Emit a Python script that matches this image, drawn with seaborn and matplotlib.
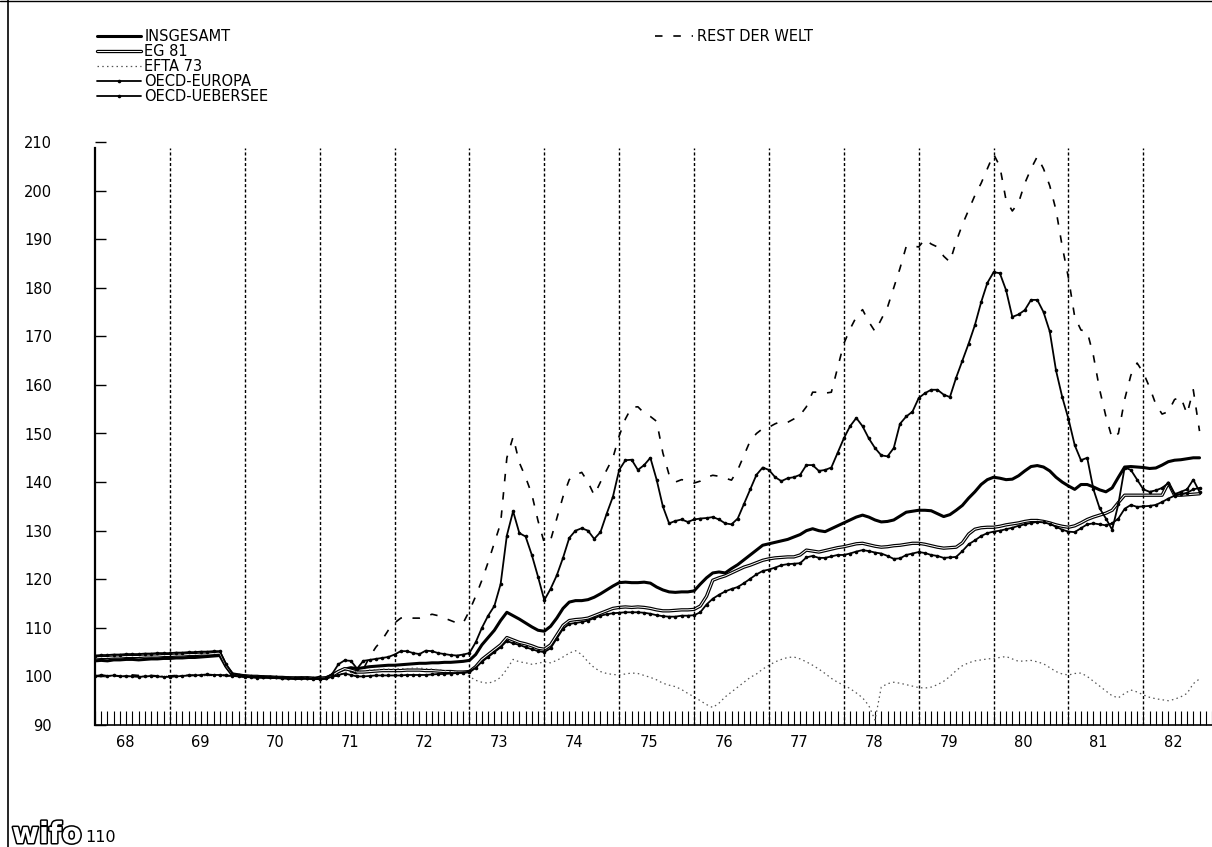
import matplotlib
matplotlib.use("Agg")
import matplotlib.pyplot as plt
import matplotlib.patheffects as pe
from matplotlib.lines import Line2D
import numpy as np
import pandas as pd
import seaborn as sns

# ---------------------------------------------------------------------------
# Monthly index values (1970 = 100), January 1968 - October 1982
# ---------------------------------------------------------------------------
START_YEAR = 1968
YEARS = list(range(1968, 1983))
YEAR_LABELS = ["68", "69", "70", "71", "72", "73", "74", "75",
               "76", "77", "78", "79", "80", "81", "82"]
Y_TICKS = [90, 100, 110, 120, 130, 140, 150, 160, 170, 180, 190, 200, 210]

SERIES_NAMES = ["INSGESAMT", "EG 81", "EFTA 73", "OECD-EUROPA",
                "OECD-UEBERSEE", "REST DER WELT"]

INSGESAMT = [
    103.2, 103.3, 103.2, 103.4, 103.4, 103.5, 103.5, 103.4, 103.5, 103.6, 103.6, 103.7,  # 1968
    103.7, 103.8, 103.8, 103.9, 103.9, 104.0, 104.1, 104.2, 104.3, 102.0, 100.3, 100.2,  # 1969
    100.1, 100.0, 100.0, 99.9, 99.8, 99.8, 99.7, 99.7, 99.6, 99.6, 99.7, 99.6,            # 1970
    99.6, 99.7, 100.3, 101.0, 101.5, 101.8, 101.6, 101.8, 102.0, 102.1, 102.2, 102.3,     # 1971
    102.3, 102.4, 102.5, 102.6, 102.7, 102.7, 102.8, 102.8, 102.9, 102.9, 103.0, 103.1,  # 1972
    103.3, 104.5, 106.5, 108.0, 109.5, 111.5, 113.2, 112.5, 111.8, 111.0, 110.2, 109.5,  # 1973
    109.3, 110.3, 112.0, 114.0, 115.3, 115.6, 115.6, 115.8, 116.3, 117.0, 117.8, 118.6,  # 1974
    119.3, 119.4, 119.3, 119.3, 119.4, 119.2, 118.4, 117.8, 117.4, 117.3, 117.4, 117.4,  # 1975
    117.6, 119.0, 120.3, 121.3, 121.5, 121.3, 122.2, 123.0, 124.0, 125.0, 126.0, 127.0,  # 1976
    127.3, 127.6, 127.9, 128.2, 128.7, 129.2, 130.0, 130.4, 130.0, 129.8, 130.4, 131.0,  # 1977
    131.6, 132.2, 132.8, 133.2, 132.8, 132.2, 131.8, 131.9, 132.2, 133.0, 133.8, 134.0,  # 1978
    134.2, 134.2, 134.1, 133.5, 132.9, 133.3, 134.2, 135.2, 136.7, 138.0, 139.5, 140.5,  # 1979
    141.0, 140.8, 140.5, 140.6, 141.3, 142.3, 143.2, 143.4, 143.1, 142.3, 141.0, 140.0,  # 1980
    139.2, 138.5, 139.5, 139.5, 139.0, 138.4, 138.0, 138.8, 141.0, 143.1, 143.2, 143.1,  # 1981
    143.0, 142.8, 142.9, 143.5, 144.2, 144.5, 144.6, 144.8, 145.0, 145.0,                # 1982
]

EG_81 = [
    103.8, 103.9, 103.9, 104.0, 104.0, 104.1, 104.1, 104.1, 104.2, 104.2, 104.2, 104.3,  # 1968
    104.3, 104.4, 104.4, 104.5, 104.5, 104.6, 104.6, 104.7, 104.8, 102.2, 100.5, 100.3,  # 1969
    100.1, 100.0, 100.0, 99.9, 99.9, 99.8, 99.8, 99.7, 99.7, 99.7, 99.7, 99.6,            # 1970
    99.6, 99.7, 100.2, 101.0, 101.6, 101.3, 100.9, 100.9, 101.0, 101.1, 101.2, 101.2,     # 1971
    101.2, 101.2, 101.3, 101.3, 101.3, 101.2, 101.2, 101.1, 101.0, 101.0, 100.9, 100.9,  # 1972
    101.0, 102.0, 103.5, 104.5, 105.5, 106.5, 108.0, 107.5, 107.0, 106.7, 106.3, 105.8,  # 1973
    105.6, 106.5, 108.5, 110.5, 111.5, 111.7, 111.8, 112.0, 112.5, 113.0, 113.5, 114.0,  # 1974
    114.2, 114.3, 114.2, 114.3, 114.2, 114.0, 113.7, 113.5, 113.5, 113.6, 113.7, 113.7,  # 1975
    113.8, 114.5, 116.5, 119.8, 120.3, 120.7, 121.3, 121.9, 122.5, 122.9, 123.4, 123.9,  # 1976
    124.2, 124.4, 124.5, 124.6, 124.6, 125.0, 126.0, 125.8, 125.6, 125.9, 126.2, 126.5,  # 1977
    126.7, 127.0, 127.3, 127.4, 127.1, 126.8, 126.6, 126.7, 126.9, 127.0, 127.2, 127.4,  # 1978
    127.4, 127.2, 126.9, 126.6, 126.4, 126.5, 126.6, 127.5, 129.3, 130.3, 130.6, 130.7,  # 1979
    130.7, 130.9, 131.2, 131.4, 131.6, 131.9, 132.1, 132.1, 131.9, 131.6, 131.2, 130.9,  # 1980
    130.7, 131.0, 131.6, 132.3, 132.8, 133.2, 133.6, 134.2, 135.8, 137.3, 137.3, 137.3,  # 1981
    137.3, 137.3, 137.3, 137.3, 139.8, 137.3, 137.3, 137.4, 137.5, 137.6,                # 1982
]

EFTA_73 = [
    100.0, 99.9, 100.0, 100.1, 100.0, 99.9, 100.0, 100.1, 100.0, 99.9, 100.0, 100.1,     # 1968
    100.0, 100.1, 100.2, 100.1, 100.0, 100.1, 100.2, 100.1, 100.2, 100.1, 100.0, 100.0,  # 1969
    99.9, 99.9, 99.8, 99.8, 99.9, 99.8, 99.7, 99.7, 99.6, 99.7, 99.6, 99.6,               # 1970
    99.7, 99.7, 99.9, 100.3, 100.8, 101.0, 101.0, 101.2, 101.3, 101.4, 101.5, 101.5,     # 1971
    101.5, 101.6, 101.6, 101.7, 101.7, 101.6, 101.5, 101.4, 101.2, 101.0, 100.8, 100.5,  # 1972
    100.0, 99.2, 98.8, 98.6, 99.0, 99.8, 101.5, 103.5, 103.0, 102.8, 102.5, 102.7,        # 1973
    103.0, 102.8, 103.3, 104.0, 104.8, 105.3, 104.5, 103.0, 101.8, 101.0, 100.6, 100.4,  # 1974
    100.3, 100.5, 100.7, 100.6, 100.2, 99.8, 99.3, 98.6, 98.2, 97.9, 97.3, 96.5,          # 1975
    95.8, 95.0, 94.2, 93.6, 94.5, 95.8, 96.8, 97.8, 98.8, 99.8, 100.5, 101.5,             # 1976
    102.3, 103.0, 103.5, 103.9, 104.0, 103.6, 103.0, 102.3, 101.5, 100.6, 99.6, 98.8,    # 1977
    98.2, 97.5, 96.6, 95.6, 94.0, 91.0, 97.8, 98.5, 98.8, 98.6, 98.3, 98.0,               # 1978
    97.7, 97.6, 97.8, 98.3, 99.0, 100.0, 101.2, 102.2, 102.8, 103.2, 103.4, 103.6,       # 1979
    103.7, 103.9, 104.1, 103.6, 103.1, 103.2, 103.3, 103.0, 102.6, 101.8, 101.0, 100.5,  # 1980
    100.3, 100.6, 100.7, 100.0, 99.0, 98.0, 97.0, 96.0, 95.6, 96.5, 97.2, 96.8,           # 1981
    96.2, 95.7, 95.4, 95.2, 95.0, 95.3, 95.8, 96.5, 98.5, 99.5,                           # 1982
]

OECD_EUROPA = [
    104.3, 104.4, 104.4, 104.5, 104.5, 104.6, 104.6, 104.6, 104.7, 104.7, 104.8, 104.8,  # 1968
    104.8, 104.9, 104.9, 105.0, 105.0, 105.1, 105.1, 105.2, 105.2, 102.5, 100.6, 100.3,  # 1969
    100.1, 100.0, 99.9, 99.9, 99.8, 99.8, 99.7, 99.7, 99.6, 99.6, 99.6, 99.6,            # 1970
    99.5, 99.6, 99.9, 100.3, 100.6, 100.3, 100.0, 100.0, 100.1, 100.2, 100.2, 100.2,     # 1971
    100.2, 100.2, 100.3, 100.3, 100.3, 100.3, 100.4, 100.5, 100.5, 100.6, 100.7, 100.8,  # 1972
    101.0, 101.8, 103.0, 104.0, 105.0, 106.0, 107.3, 106.8, 106.5, 106.0, 105.6, 105.2,  # 1973
    105.0, 105.8, 107.8, 109.8, 110.8, 111.0, 111.2, 111.5, 112.0, 112.5, 112.8, 113.0,  # 1974
    113.1, 113.2, 113.2, 113.2, 113.1, 112.9, 112.6, 112.4, 112.3, 112.3, 112.5, 112.5,  # 1975
    112.6, 113.2, 114.8, 116.0, 116.8, 117.5, 118.0, 118.4, 119.2, 120.1, 121.0, 121.7,  # 1976
    122.0, 122.4, 122.9, 123.1, 123.2, 123.3, 124.5, 124.8, 124.4, 124.4, 124.7, 125.0,  # 1977
    125.0, 125.3, 125.7, 126.0, 125.8, 125.5, 125.3, 124.8, 124.2, 124.3, 125.0, 125.3,  # 1978
    125.6, 125.4, 125.0, 124.8, 124.4, 124.5, 124.6, 125.8, 127.2, 128.0, 128.9, 129.5,  # 1979
    129.8, 130.0, 130.3, 130.6, 131.0, 131.3, 131.6, 131.8, 131.7, 131.4, 130.8, 130.2,  # 1980
    129.8, 129.7, 130.5, 131.3, 131.5, 131.3, 131.1, 131.5, 132.5, 134.5, 135.3, 134.9,  # 1981
    135.0, 135.1, 135.3, 135.9, 136.6, 137.2, 137.5, 137.8, 138.5, 138.8,                # 1982
]

OECD_UEBERSEE = [
    100.0, 100.3, 100.1, 100.2, 100.0, 100.1, 100.0, 99.9, 100.0, 100.1, 100.0, 99.9,    # 1968
    99.9, 100.0, 100.1, 100.2, 100.2, 100.3, 100.4, 100.3, 100.3, 100.2, 100.1, 100.0,   # 1969
    99.9, 99.8, 99.7, 99.8, 99.9, 99.8, 99.7, 99.6, 99.6, 99.7, 99.6, 99.5,               # 1970
    99.5, 99.6, 100.5, 102.5, 103.3, 103.2, 101.6, 103.2, 103.4, 103.6, 103.8, 104.0,    # 1971
    104.5, 105.2, 105.2, 104.8, 104.6, 105.3, 105.2, 104.8, 104.6, 104.4, 104.3, 104.5,  # 1972
    104.8, 107.0, 110.0, 112.5, 114.5, 119.0, 129.0, 134.0, 129.5, 128.8, 125.0, 120.5,  # 1973
    115.7, 118.0, 120.8, 124.4, 128.5, 130.0, 130.5, 130.0, 128.3, 129.7, 133.5, 137.0,  # 1974
    142.5, 144.5, 144.6, 142.5, 143.5, 145.0, 140.5, 135.0, 131.5, 132.0, 132.3, 131.8,  # 1975
    132.3, 132.5, 132.6, 132.8, 132.3, 131.5, 131.3, 132.5, 135.5, 138.5, 141.5, 143.0,  # 1976
    142.5, 141.0, 140.2, 140.8, 141.0, 141.5, 143.5, 143.5, 142.3, 142.5, 143.0, 146.0,  # 1977
    149.0, 151.5, 153.2, 151.5, 149.0, 147.0, 145.5, 145.3, 147.0, 152.0, 153.5, 154.5,  # 1978
    157.3, 158.3, 159.0, 159.0, 158.0, 157.5, 161.5, 165.0, 168.5, 172.3, 177.0, 181.0,  # 1979
    183.2, 183.0, 179.5, 174.0, 174.5, 175.4, 177.5, 177.5, 175.0, 171.0, 163.0, 157.5,  # 1980
    153.0, 147.6, 144.5, 145.0, 138.5, 134.6, 132.5, 130.2, 135.5, 143.0, 142.5, 140.5,  # 1981
    138.5, 138.0, 138.3, 138.8, 139.8, 137.5, 138.0, 138.5, 140.5, 138.0,                # 1982
]

REST_DER_WELT = [
    100.2, 100.1, 100.3, 100.2, 100.1, 100.2, 100.3, 100.2, 100.1, 100.2, 100.1, 100.2,  # 1968
    100.1, 100.2, 100.3, 100.2, 100.3, 100.4, 100.3, 100.2, 100.3, 100.2, 100.1, 100.0,  # 1969
    100.0, 99.9, 99.9, 99.8, 99.9, 99.8, 99.8, 99.7, 99.7, 99.8, 99.7, 99.6,             # 1970
    100.0, 100.0, 100.2, 100.0, 100.5, 101.0, 100.5, 101.5, 104.0, 106.0, 107.5, 109.5,  # 1971
    111.0, 112.0, 112.3, 112.0, 112.0, 112.3, 112.8, 112.5, 112.0, 111.5, 111.0, 111.0,  # 1972
    113.5, 116.5, 119.8, 123.5, 127.5, 131.5, 145.0, 149.3, 144.0, 141.0, 137.5, 132.0,  # 1973
    127.5, 128.0, 132.5, 137.0, 140.5, 141.5, 142.0, 140.0, 137.3, 140.0, 142.5, 145.0,  # 1974
    149.5, 153.0, 155.4, 155.5, 154.2, 153.5, 152.5, 146.0, 141.5, 140.0, 140.5, 140.3,  # 1975
    139.8, 140.2, 141.0, 141.4, 141.2, 140.8, 140.4, 142.5, 145.5, 148.5, 150.0, 151.0,  # 1976
    151.3, 152.0, 152.5, 152.3, 153.0, 153.8, 155.5, 158.5, 158.5, 158.3, 158.5, 163.5,  # 1977
    168.5, 171.5, 174.0, 175.5, 173.0, 171.0, 173.5, 176.0, 180.0, 184.0, 188.5, 188.6,  # 1978
    188.4, 190.0, 189.0, 188.4, 186.5, 185.3, 189.5, 193.0, 196.0, 199.0, 201.5, 204.5,  # 1979
    207.5, 205.0, 198.0, 195.8, 197.5, 201.5, 204.5, 207.0, 204.5, 201.0, 196.0, 188.5,  # 1980
    182.0, 174.0, 171.3, 171.0, 166.0, 159.0, 153.5, 149.0, 150.0, 157.0, 162.0, 164.5,  # 1981
    162.5, 159.5, 156.0, 154.0, 154.5, 157.0, 157.5, 154.0, 159.0, 150.5,                # 1982
]

SERIES_VALUES = [INSGESAMT, EG_81, EFTA_73, OECD_EUROPA, OECD_UEBERSEE, REST_DER_WELT]

# ---------------------------------------------------------------------------
# Long-form table: one row per month and region
# ---------------------------------------------------------------------------
frames = []
for name, values in zip(SERIES_NAMES, SERIES_VALUES):
    t = START_YEAR + np.arange(len(values)) / 12.0
    frames.append(pd.DataFrame({"zeit": t, "index": values, "region": name}))
data = pd.concat(frames, ignore_index=True)

# Plotter-like line styles
STYLES = {
    "INSGESAMT": dict(color="black", linewidth=2.2, linestyle="-"),
    "EG 81": dict(color="white", linewidth=0.7, linestyle="-",
                  path_effects=[pe.Stroke(linewidth=2.4, foreground="black"), pe.Normal()]),
    "EFTA 73": dict(color="#555555", linewidth=0.9, linestyle=(0, (1.2, 2.6))),
    "OECD-EUROPA": dict(color="black", linewidth=1.3, linestyle="-",
                        marker="o", markersize=2.6, markeredgewidth=0),
    "OECD-UEBERSEE": dict(color="black", linewidth=1.3, linestyle="-",
                          marker="o", markersize=2.6, markeredgewidth=0),
    "REST DER WELT": dict(color="black", linewidth=1.2, linestyle=(0, (4.5, 6.5))),
}

sns.set_style("white")
plt.rcParams["font.family"] = ["DejaVu Sans"]
plt.rcParams["text.color"] = "black"
plt.rcParams["xtick.color"] = "black"
plt.rcParams["ytick.color"] = "black"
plt.rcParams["xtick.bottom"] = True
plt.rcParams["ytick.left"] = True

W, H = 1212, 847
fig = plt.figure(figsize=(W / 100, H / 100), dpi=100)
ax = fig.add_axes([95 / W, 122 / H, 1 - 95 / W, 583 / H])

for name in SERIES_NAMES:
    sub = data[data["region"] == name]
    sns.lineplot(data=sub, x="zeit", y="index", ax=ax, estimator=None,
                 legend=False, **STYLES[name])

ax.set_xlim(START_YEAR, START_YEAR + (W - 95) / 75.1)
ax.set_ylim(90, 210)
ax.set_xlabel("")
ax.set_ylabel("")

# Dashed year separators
ax.vlines(YEARS[1:], 90, 208.8, colors="black", linewidth=1.0,
          linestyles=[(0, (2.2, 1.6))])

# Axes: y ticks pointing inward, monthly ticks along the bottom
ax.set_yticks(Y_TICKS)
ax.set_yticklabels([str(v) for v in Y_TICKS])
ax.tick_params(axis="y", which="major", left=True, direction="in", length=8,
               width=1.0, pad=31, labelsize=10.5, colors="black")
ax.set_xticks([y + 0.4 for y in YEARS])
ax.set_xticklabels(YEAR_LABELS)
ax.tick_params(axis="x", which="major", bottom=True, length=0, pad=7,
               labelsize=10.5, colors="black")
ax.set_xticks(START_YEAR + np.arange(0, len(YEARS) * 12) / 12.0, minor=True)
ax.tick_params(axis="x", which="minor", bottom=True, direction="in",
               length=10, width=0.8, colors="black")

for side in ("top", "right"):
    ax.spines[side].set_visible(False)
ax.spines["left"].set_bounds(90, 208.8)
ax.spines["left"].set_linewidth(1.6)
ax.spines["bottom"].set_linewidth(1.2)
for side in ("left", "bottom"):
    ax.spines[side].set_color("black")

# Legends
def handle(name):
    st = dict(STYLES[name])
    return Line2D([0], [0], **st)

main_names = SERIES_NAMES[:5]
fig.legend([handle(n) for n in main_names], main_names, loc="upper left",
           bbox_to_anchor=(97 / W, 1 - 29 / H), frameon=False, borderpad=0,
           borderaxespad=0, handlelength=3.0, handletextpad=0.25,
           labelspacing=0.0, fontsize=10.5)
fig.legend([handle("REST DER WELT")], ["REST DER WELT"], loc="upper left",
           bbox_to_anchor=(655 / W, 1 - 29 / H), frameon=False, borderpad=0,
           borderaxespad=0, handlelength=2.6, handletextpad=0.25, fontsize=10.5)

# Page border and footer
fig.add_artist(Line2D([8 / W, 8 / W], [0, 1], transform=fig.transFigure,
                      color="black", linewidth=1.2))
fig.add_artist(Line2D([0, 1], [1 - 1 / H, 1 - 1 / H], transform=fig.transFigure,
                      color="black", linewidth=1.0))
fig.text(12 / W, 1 - 843 / H, "wifo", fontsize=21, fontweight="bold",
         color="white", ha="left", va="baseline",
         path_effects=[pe.withStroke(linewidth=2.2, foreground="black")])
fig.text(85 / W, 1 - 842 / H, "110", fontsize=11.5, ha="left", va="baseline")

fig.savefig("out.png", dpi=100, facecolor="white")
